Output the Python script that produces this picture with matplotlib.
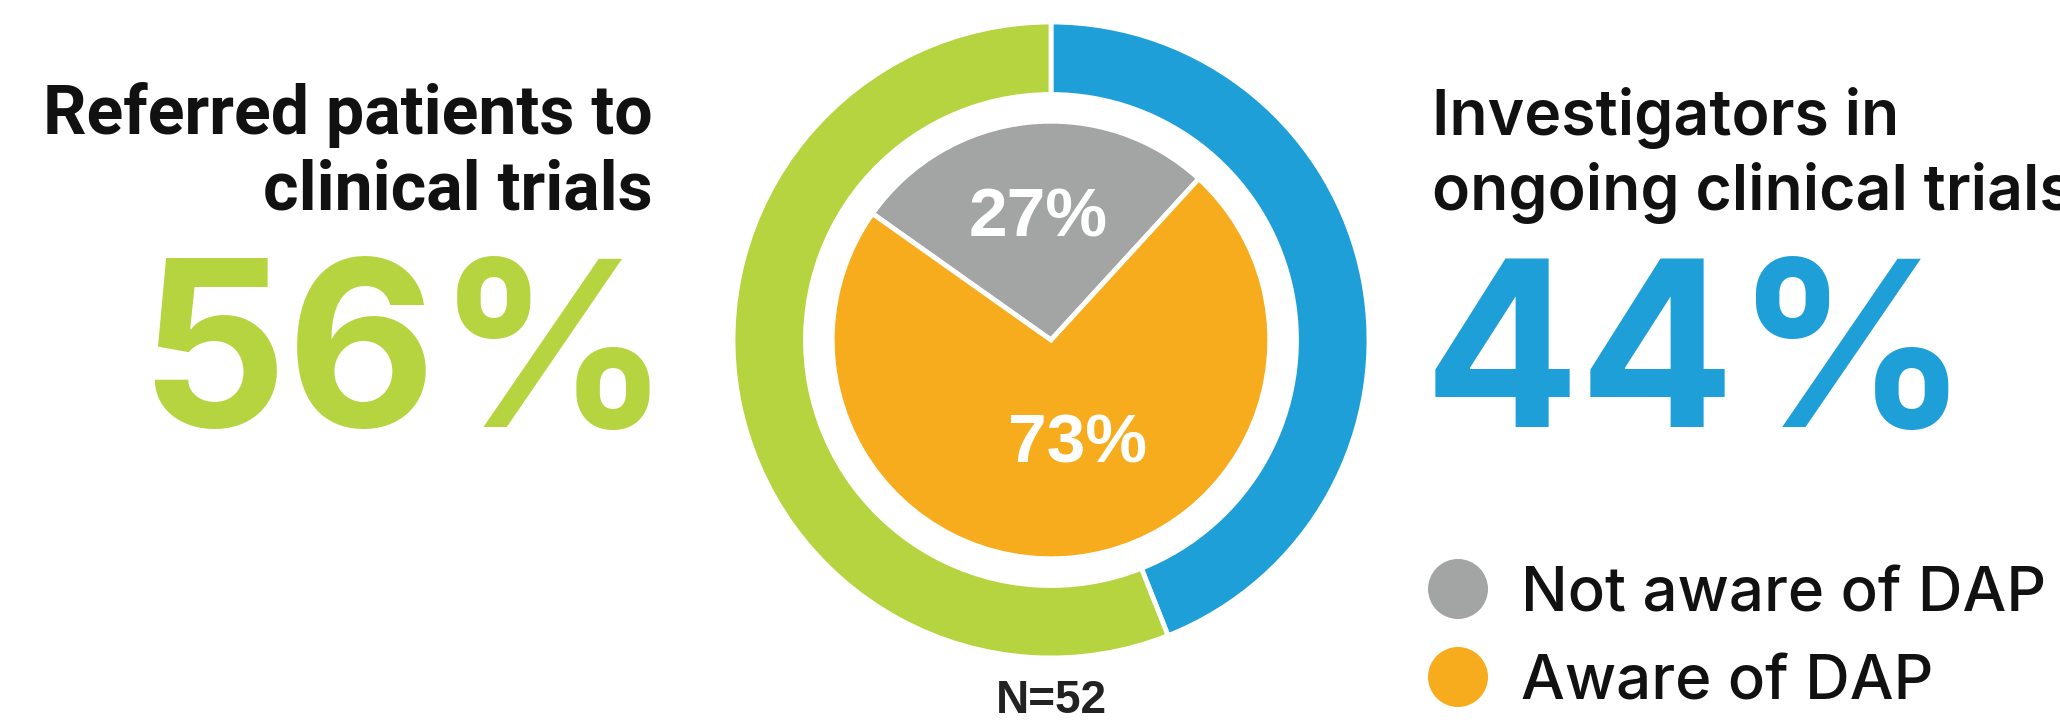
import matplotlib
matplotlib.use("Agg")
import matplotlib.pyplot as plt
from matplotlib.patches import Circle
import numpy as np

# data
outer_labels = ["Investigators in ongoing clinical trials", "Referred patients to clinical trials"]
outer_vals = [44, 56]
inner_labels = ["Not aware of DAP", "Aware of DAP"]
inner_vals = [27, 73]
n_total = 52

blue = "#1E9FD8"
green = "#B5D43F"
gray = "#A3A5A4"
orange = "#F7AC1E"
ink = "#111111"

W, H = 2060, 720
fig = plt.figure(figsize=(W / 100, H / 100), dpi=100, facecolor="white")

# overlay axes in pixel coords (y down)
ov = fig.add_axes([0, 0, 1, 1])
ov.set_xlim(0, W)
ov.set_ylim(H, 0)
ov.axis("off")

# donut + pie
cx, cy, R = 1051, 340, 318
ax = fig.add_axes([(cx - R) / W, (H - cy - R) / H, 2 * R / W, 2 * R / H])

ax.pie(outer_vals, colors=[blue, green], startangle=90, counterclock=False,
       radius=1.0, wedgeprops=dict(width=0.228, edgecolor="white", linewidth=3.5))
wedges, _ = ax.pie(inner_vals, colors=[gray, orange], startangle=47.5,
                   radius=0.688, wedgeprops=dict(edgecolor="white", linewidth=3.5))
ax.set_xlim(-1, 1)
ax.set_ylim(-1, 1)
ax.axis("off")

label_pos = [(0.385, 0.0), (0.33, 0.05)]
for w, v, (d, dx) in zip(wedges, inner_vals, label_pos):
    mid = np.deg2rad((w.theta1 + w.theta2) / 2)
    ax.text(d * np.cos(mid) + dx, d * np.sin(mid), f"{v}%", color="white",
            fontsize=50, fontweight="bold", family="Liberation Sans",
            ha="center", va="center")

ov.text(cx, 713, f"N={n_total}", color="#222222", fontsize=33, fontweight="bold",
        family="Liberation Sans", ha="center", va="baseline")

# left side
ov.text(653, 134, "Referred patients to", color=ink, fontsize=49, fontweight="bold",
        family="Roboto", ha="right", va="baseline")
ov.text(653, 210, "clinical trials", color=ink, fontsize=49, fontweight="bold",
        family="Roboto", ha="right", va="baseline")
ov.text(671, 427, f"{outer_vals[1]}%", color=green, fontsize=166, fontweight="bold",
        family="Inter", ha="right", va="baseline")

# right side
ov.text(1432, 135, "Investigators in", color=ink, fontsize=45, fontweight="semibold",
        family="Inter", ha="left", va="baseline")
ov.text(1432, 210, "ongoing clinical trials", color=ink, fontsize=45, fontweight="semibold",
        family="Inter", ha="left", va="baseline")
ov.text(1424, 427, f"{outer_vals[0]}%", color=blue, fontsize=166, fontweight="bold",
        family="Inter", ha="left", va="baseline")

# legend
for lab, col, y in zip(inner_labels, [gray, orange], [589, 677]):
    ov.add_patch(Circle((1458, y), 30, color=col, lw=0))
    ov.text(1521, y + 22, lab, color=ink, fontsize=44.5, fontweight="medium",
            family="Inter", ha="left", va="baseline")

fig.savefig("out.png", dpi=100, facecolor="white")
